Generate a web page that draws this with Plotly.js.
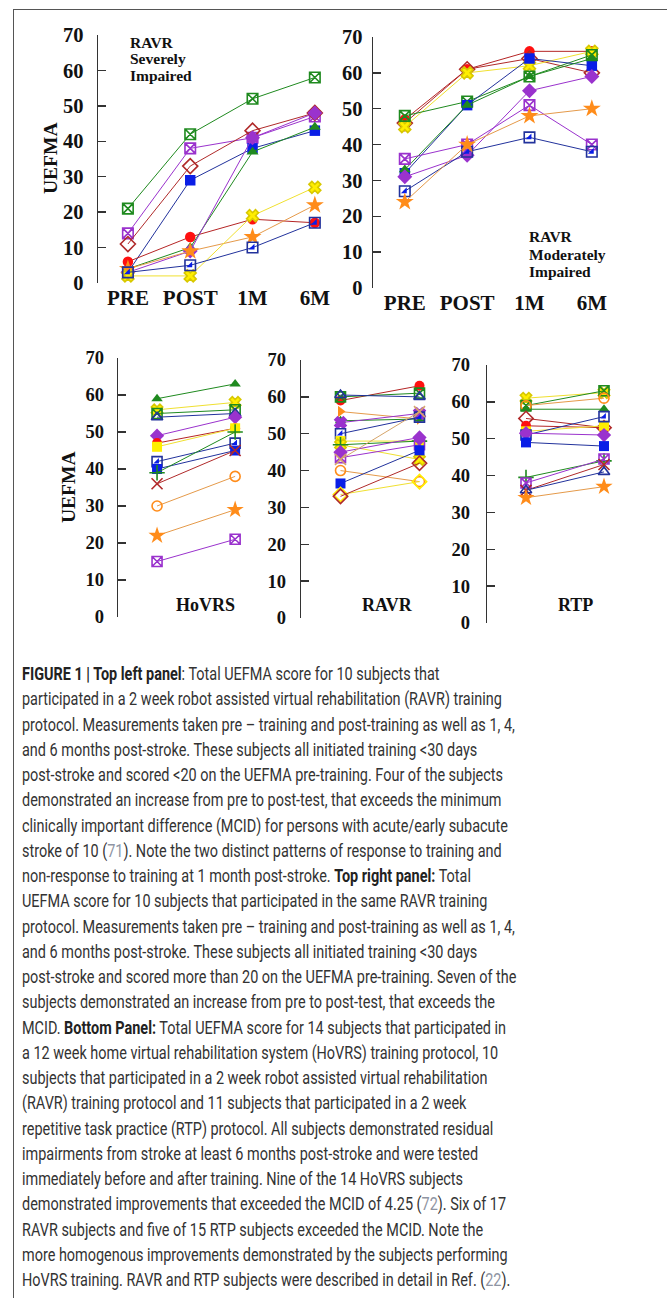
<!DOCTYPE html>
<html>
<head>
<meta charset="utf-8">
<script src="https://cdn.plot.ly/plotly-3.0.1.min.js"></script>
<style>
  html, body { margin:0; padding:0; background:#fff; width:667px; height:1298px; overflow:hidden; }
  #frame { position:absolute; left:13px; top:9px; width:700px; height:1400px; border-left:1px solid #555; border-top:1px solid #555; }
  #plot { position:absolute; left:0; top:0; width:667px; height:650px; }
  #caption { position:absolute; left:22px; top:662px; transform-origin:0 0;
     font-family:"Liberation Sans Narrow","Roboto","Liberation Sans",sans-serif; font-weight:400;
     font-size:17.5px; color:#333; }
  #caption div { white-space:pre; height:25.25px; line-height:25.25px; }
  #caption b { font-weight:700; color:#222; }
  #caption .ref { color:#8f95a3; }
</style>
</head>
<body>
<div id="frame"></div>
<div id="plot"></div>
<div id="caption"></div>
<script>
// ---------------- DATA ----------------
const timeLabels = ['PRE', 'POST', '1M', '6M'];
const prePost = ['PRE', 'POST'];

// Top left: RAVR severely impaired (PRE, POST, 1M, 6M)
const severeScores = [
  [21, 42, 52, 58],
  [14, 38, 41, 47],
  [11, 33, 43, 48],
  [3, 29, 38, 43],
  [6, 13, 18, 17],
  [4, 10, 37, 44],
  [3, 9, 41, 48],
  [4, 9, 13, 22],
  [2, 2, 19, 27],
  [3, 5, 10, 17]
];
// Top right: RAVR moderately impaired
const moderateScores = [
  [47, 61, 66, 66],
  [46, 61, 64, 60],
  [45, 60, 62, 66],
  [48, 52, 59, 65],
  [32, 51, 64, 62],
  [33, 51, 59, 64],
  [36, 40, 51, 40],
  [31, 37, 55, 59],
  [27, 38, 42, 38],
  [24, 40, 48, 50]
];
// Bottom: HoVRS (pre, post)
const hovrsScores = [
  [59, 63], [56, 58], [55, 56], [54, 55], [49, 54], [47, 51], [46, 51],
  [42, 47], [40, 45], [39, 50], [36, 45], [30, 38], [22, 29], [15, 21]
];
// Bottom: RAVR (pre, post)
const ravrScores = [
  [59, 63], [60, 61], [60.5, 60], [56, 54], [53.5, 54], [53, 55.5], [50, 54.5],
  [48, 48], [47, 43], [47, 48], [45, 49], [43.5, 47], [43, 56], [40, 37],
  [36.5, 45.5], [33.5, 37], [33, 42]
];
// Bottom: RTP (pre, post)
const rtpScores = [
  [61, 62.5], [59, 63], [59, 61], [58, 58], [55.5, 53], [53.5, 53], [52, 53.5],
  [51, 56], [51.5, 51], [49, 48], [39.5, 44], [38, 44.5], [36, 43], [36, 41], [34, 37]
];

// ---------------- STYLES ----------------
const C = {
  green: '#1f8a1f', purple: '#9a32cd', brown: '#b02a2a', blue: '#0a1ee6', navy: '#22329c',
  red: '#ff1010', redLine: '#b52525', orange: '#ff8c1a', orangeLine: '#e59a4a',
  yellow: '#ffee00', yellowLine: '#f0e030', tan: '#d6a56a'
};
// style keys: [symbol, markerColor, lineColor, halfFill]
const S = {
  gSqX: ['square-x-open', C.green, C.green],
  pSqX: ['square-x-open', C.purple, C.purple],
  bDia: ['diamond-open', C.brown, C.brown],
  bSq: ['square', C.blue, C.navy],
  rCirc: ['circle', C.red, C.redLine],
  gTri: ['triangle-up', C.green, C.green],
  pDia: ['diamond', C.purple, C.purple],
  oStar: ['star', C.orange, C.orangeLine],
  yX: ['x', C.yellow, C.yellowLine],
  bHalf: ['square-open', C.navy, C.navy, 'half'],
  bTriO: ['triangle-up-open', C.navy, C.navy],
  ySq: ['square', C.yellow, C.yellowLine],
  gPlus: ['cross-thin-open', C.green, C.green],
  brX: ['x-thin-open', C.brown, C.brown],
  oCircO: ['circle-open', C.orange, C.orangeLine],
  oTriR: ['triangle-right', C.orange, C.orangeLine],
  pX: ['x', C.purple, C.purple],
  tX: ['x-thin-open', C.tan, C.tan],
  yDiaO: ['diamond-open', C.yellow, C.yellowLine]
};
const severeStyles = ['gSqX','pSqX','bDia','bSq','rCirc','gTri','pDia','oStar','yX','bHalf'];
const moderateStyles = ['rCirc','bDia','yX','gSqX','bSq','gTri','pSqX','pDia','bHalf','oStar'];
const hovrsStyles = ['gTri','yX','gSqX','bTriO','pDia','rCirc','ySq','bHalf','bSq','gPlus','brX','oCircO','oStar','pSqX'];
const ravrStyles = ['rCirc','gSqX','bTriO','oTriR','gTri','pX','bHalf','ySq','yX','gPlus','pDia','pSqX','tX','oCircO','bSq','yDiaO','bDia'];
const rtpStyles = ['yX','gSqX','oCircO','gTri','bDia','rCirc','ySq','bHalf','pDia','bSq','gPlus','pSqX','brX','bTriO','oStar'];

const traces = [];
function addPanel(scores, styles, labels, xa, ya, msize) {
  scores.forEach((vals, i) => {
    const st = S[styles[i]];
    const sym = st[0];
    const open = sym.indexOf('open') >= 0 || sym === 'x';
    let size = msize;
    if (sym === 'star') size = msize + 3;
    if (sym.indexOf('thin') >= 0) size = msize + 1;
    if (sym.indexOf('diamond') >= 0) size = msize + 1;
    traces.push({
      x: labels, y: vals, xaxis: xa, yaxis: ya, type: 'scatter', mode: 'lines+markers',
      line: { color: st[2], width: 1 },
      marker: { symbol: sym, size: size, color: st[1],
        line: { color: (sym === 'x' && st[1] === C.yellow) ? '#d8c800' : st[1], width: open ? 1.6 : 0 } },
      hoverinfo: 'skip', showlegend: false, cliponaxis: false
    });
    if (st[3] === 'half') {
      traces.push({
        x: labels, y: vals, xaxis: xa, yaxis: ya, type: 'scatter', mode: 'markers',
        marker: { symbol: 'triangle-se', size: msize * 0.62, color: C.blue, line: { width: 0 } },
        hoverinfo: 'skip', showlegend: false, cliponaxis: false
      });
    }
  });
}
addPanel(severeScores, severeStyles, timeLabels, 'x', 'y', 10.5);
addPanel(moderateScores, moderateStyles, timeLabels, 'x2', 'y2', 10.5);
addPanel(hovrsScores, hovrsStyles, prePost, 'x3', 'y3', 10);
addPanel(ravrScores, ravrStyles, prePost, 'x4', 'y4', 10);
addPanel(rtpScores, rtpStyles, prePost, 'x5', 'y5', 10);

const W = 667, H = 650;
const px = v => v / W, py = v => 1 - v / H;
const serif = 'Liberation Serif, Times New Roman, serif';
function yAx(top, bottom, size, standoff) {
  return {
    domain: [py(bottom), py(top)], range: [0, 70], dtick: 10, tick0: 0,
    showgrid: false, zeroline: false, showline: true, linecolor: '#333', linewidth: 1.3,
    ticks: 'inside', ticklen: 8, tickwidth: 1.3, tickcolor: '#333',
    tickfont: { family: serif, size: size, color: '#111', weight: 'bold' },
    ticklabelstandoff: standoff, fixedrange: true
  };
}
function xAx(left, right, range, show, anchor) {
  return {
    domain: [px(left), px(right)], range: range, type: 'category',
    showgrid: false, zeroline: false, showline: false, ticks: '',
    showticklabels: show, tickfont: { family: serif, size: 21, color: '#111', weight: 'bold' },
    anchor: anchor, fixedrange: true
  };
}

const annotations = [];
function textAnn(text, x, y, size, opts) {
  annotations.push(Object.assign({
    text: text, xref: 'paper', yref: 'paper', x: px(x), y: py(y), showarrow: false,
    font: { family: serif, size: size, color: '#111', weight: 'bold' },
    xanchor: 'center', yanchor: 'middle'
  }, opts || {}));
}
['RAVR', 'Severely', 'Impaired'].forEach((t, i) => textAnn(t, 128, 42 + i * 16.7, 15.5, { xanchor: 'left' }));
['RAVR', 'Moderately', 'Impaired'].forEach((t, i) => textAnn(t, 527, 237 + i * 17, 15.5, { xanchor: 'left' }));
textAnn('UEFMA', 50, 158, 19.5, { textangle: -90 });
textAnn('UEFMA', 68, 487, 19.5, { textangle: -90 });
textAnn('HoVRS', 205, 605, 18);
textAnn('RAVR', 387, 605, 18);
textAnn('RTP', 575, 605, 18);

const layout = {
  width: W, height: H, margin: { l: 0, r: 0, t: 0, b: 0 },
  paper_bgcolor: 'rgba(0,0,0,0)', plot_bgcolor: 'rgba(0,0,0,0)', showlegend: false,
  xaxis: xAx(98, 346, [-0.48, 3.5], true, 'y'),
  yaxis: yAx(35, 283, 20.5, 9),
  xaxis2: xAx(373, 623, [-0.51, 3.5], true, 'y2'),
  yaxis2: yAx(37, 288, 20.5, 5),
  xaxis3: xAx(118, 282, [-0.5, 1.6], false, 'y3'),
  yaxis3: Object.assign(yAx(358, 617, 18.5, 9), { anchor: 'x3' }),
  xaxis4: xAx(301, 459, [-0.5, 1.5], false, 'y4'),
  yaxis4: Object.assign(yAx(360, 618, 18.5, 10), { anchor: 'x4' }),
  xaxis5: xAx(487, 643, [-0.5, 1.5], false, 'y5'),
  yaxis5: Object.assign(yAx(365, 623, 18.5, 12), { anchor: 'x5' }),
  annotations: annotations
};
layout.yaxis.anchor = 'x';
layout.yaxis2.anchor = 'x2';

Plotly.newPlot('plot', traces, layout, { staticPlot: true, displayModeBar: false });

// ---------------- CAPTION ----------------
const captionLines = [
  '<b>FIGURE 1 | Top left panel</b>: Total UEFMA score for 10 subjects that',
  'participated in a 2 week robot assisted virtual rehabilitation (RAVR) training',
  'protocol. Measurements taken pre \u2013 training and post-training as well as 1, 4,',
  'and 6 months post-stroke. These subjects all initiated training &lt;30 days',
  'post-stroke and scored &lt;20 on the UEFMA pre-training. Four of the subjects',
  'demonstrated an increase from pre to post-test, that exceeds the minimum',
  'clinically important difference (MCID) for persons with acute/early subacute',
  'stroke of 10 (<span class="ref">71</span>). Note the two distinct patterns of response to training and',
  'non-response to training at 1 month post-stroke. <b>Top right panel:</b> Total',
  'UEFMA score for 10 subjects that participated in the same RAVR training',
  'protocol. Measurements taken pre \u2013 training and post-training as well as 1, 4,',
  'and 6 months post-stroke. These subjects all initiated training &lt;30 days',
  'post-stroke and scored more than 20 on the UEFMA pre-training. Seven of the',
  'subjects demonstrated an increase from pre to post-test, that exceeds the',
  'MCID. <b>Bottom Panel:</b> Total UEFMA score for 14 subjects that participated in',
  'a 12 week home virtual rehabilitation system (HoVRS) training protocol, 10',
  'subjects that participated in a 2 week robot assisted virtual rehabilitation',
  '(RAVR) training protocol and 11 subjects that participated in a 2 week',
  'repetitive task practice (RTP) protocol. All subjects demonstrated residual',
  'impairments from stroke at least 6 months post-stroke and were tested',
  'immediately before and after training. Nine of the 14 HoVRS subjects',
  'demonstrated improvements that exceeded the MCID of 4.25 (<span class="ref">72</span>). Six of 17',
  'RAVR subjects and five of 15 RTP subjects exceeded the MCID. Note the',
  'more homogenous improvements demonstrated by the subjects performing',
  'HoVRS training. RAVR and RTP subjects were described in detail in Ref. (<span class="ref">22</span>).'
];
const cap = document.getElementById('caption');
cap.innerHTML = captionLines.map(l => '<div><span>' + l + '</span></div>').join('');
const refSpan = cap.children[4].firstChild;
const w = refSpan.getBoundingClientRect().width;
const k = 481 / w;
cap.style.transform = 'scaleX(' + k + ')';
</script>
</body>
</html>
